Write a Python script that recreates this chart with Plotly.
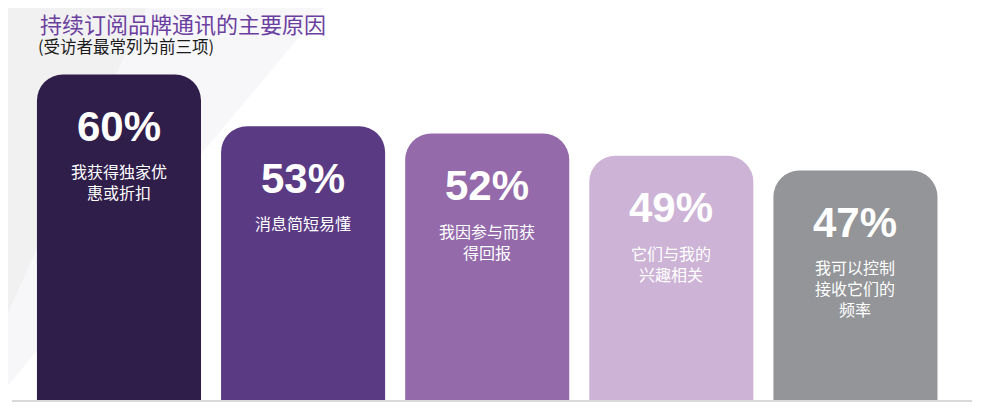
import plotly.graph_objects as go

reasons = ["我获得独家优惠或折扣", "消息简短易懂", "我因参与而获得回报",
           "它们与我的兴趣相关", "我可以控制接收它们的频率"]
values = [60, 53, 52, 49, 47]
label_lines = [
    ["我获得独家优", "惠或折扣"],
    ["消息简短易懂"],
    ["我因参与而获", "得回报"],
    ["它们与我的", "兴趣相关"],
    ["我可以控制", "接收它们的", "频率"],
]
bar_colors = ["#2f1d4a", "#5b3a84", "#946aab", "#cdb3d6", "#939598"]

title_text = "持续订阅品牌通讯的主要原因"
subtitle_text = "(受访者最常列为前三项)"

cjk = "Noto Sans CJK SC, Noto Sans, sans-serif"
LBL = 16


def px(x):
    # screen px -> paper x (plot area starts at 12px, 960 wide)
    return (x - 12) / 960


def py(y):
    # screen px -> paper y (plot bottom at 400px, 350 tall)
    return (400 - y) / 350


fig = go.Figure()
fig.add_trace(
    go.Bar(
        x=reasons,
        y=values,
        marker=dict(color=bar_colors, line=dict(width=0)),
        hoverinfo="skip",
    )
)

# percentage + wrapped reason inside each bar
for r, v, lines in zip(reasons, values, label_lines):
    fig.add_annotation(
        x=r, y=v, xref="x", yref="y",
        text=f"{v}%", showarrow=False,
        yshift=-52, yanchor="middle",
        font=dict(family="Liberation Sans, Arial, sans-serif", size=42,
                  color="white", weight="bold"),
    )
    fig.add_annotation(
        x=r, y=v, xref="x", yref="y",
        text="<br>".join(lines), showarrow=False,
        yshift=-(97 + (len(lines) - 1) * LBL * 1.3 / 2), yanchor="middle",
        font=dict(family=cjk, size=LBL, color="white"),
    )

# title block
fig.add_annotation(
    x=px(38), y=py(23), xref="paper", yref="paper",
    text=title_text, showarrow=False, xanchor="left", yanchor="middle",
    font=dict(family=cjk, size=22, color="#6b3fa0"),
)
fig.add_annotation(
    x=px(36), y=py(46), xref="paper", yref="paper",
    text=subtitle_text, showarrow=False, xanchor="left", yanchor="middle",
    font=dict(family=cjk, size=16.5, color="#1a1a1a"),
)

# faint diagonal background bands top-left
fig.add_shape(
    type="path", xref="paper", yref="paper", layer="below",
    path=f"M {px(0)} {py(0)} L {px(330)} {py(0)} L {px(0)} {py(395)} Z",
    fillcolor="#f7f6f9", line=dict(width=0),
)
fig.add_shape(
    type="path", xref="paper", yref="paper", layer="below",
    path=f"M {px(0)} {py(0)} L {px(150)} {py(0)} L {px(0)} {py(330)} Z",
    fillcolor="#f1f1f2", line=dict(width=0),
)

# the page body adds 8px offset, so the figure is 992x412
fig.update_layout(
    width=992, height=412,
    margin=dict(l=4, r=28, t=42, b=20),
    plot_bgcolor="rgba(0,0,0,0)",
    paper_bgcolor="white",
    bargap=0.109,
    barcornerradius=26,
    showlegend=False,
    xaxis=dict(
        type="category", range=[-0.581, 4.633],
        showticklabels=False, showgrid=False, zeroline=False,
        showline=True, linecolor="#d9d9d9", linewidth=2, ticks="",
    ),
    yaxis=dict(range=[16, 63.3], visible=False),
)

fig.write_html("out.html")
